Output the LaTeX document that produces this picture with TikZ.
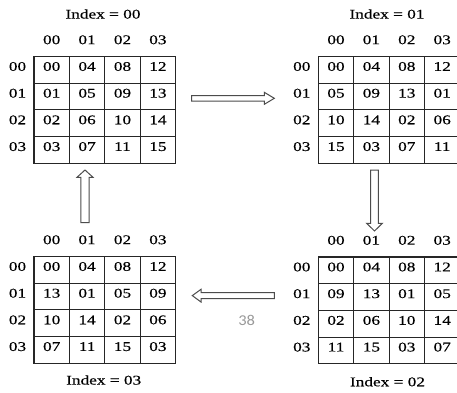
\documentclass[tikz,border=0pt]{standalone}
\usepackage{fontspec}
\setmainfont[FakeStretch=1.3,FakeBold=0.35]{Liberation Serif}
\newfontfamily\pagefont[FakeStretch=1.1]{Carlito}
\newcommand\mygrid[7]{%
  \foreach \rw [count=\r from 0] in {{#4},{#5},{#6},{#7}} {
    \node[rowlab] (#1-l\r) at (#2-16.5, #3+13.35+26.7*\r) {0\r};
    \foreach \v [count=\c from 0] in \rw {
      \node[cell] (#1-\r-\c) at (#2+17.7+35.4*\c, #3+13.35+26.7*\r) {\v};
    }
  }
  \foreach \c in {0,...,3} {
    \node[hdr] (#1-h\c) at (#2+17.7+35.4*\c, #3-16.7) {0\c};
  }
}
\begin{document}
\begin{tikzpicture}[x=1pt,y=-1pt,
  every node/.style={inner sep=0pt, font=\fontsize{13.3}{16}\selectfont},
  cell/.style={draw=black!85, line width=1.1pt, minimum width=35.4pt, minimum height=26.7pt, text height=9pt, text depth=7pt},
  rowlab/.style={text height=9pt, text depth=7pt},
  hdr/.style={},
  title/.style={},
  arr/.style={draw=black!70, line width=1pt, fill=white, line join=miter}]
\useasboundingbox[fill=white] (0,0) rectangle (457,392);

\mygrid{ga}{34}{56.5}{00,04,08,12}{01,05,09,13}{02,06,10,14}{03,07,11,15}
\mygrid{gb}{318.3}{56.5}{00,04,08,12}{05,09,13,01}{10,14,02,06}{15,03,07,11}
\mygrid{gc}{318.3}{257}{00,04,08,12}{09,13,01,05}{02,06,10,14}{11,15,03,07}
\mygrid{gd}{34}{256.5}{00,04,08,12}{13,01,05,09}{10,14,02,06}{07,11,15,03}

\node[title] (ta) at (103,14) {Index = 00};
\node[title] (tb) at (387,14) {Index = 01};
\node[title] (tc) at (387.5,381.7) {Index = 02};
\node[title] (td) at (103.7,380) {Index = 03};

% arrows
\draw[arr] (191.7,95.6) -- (264.3,95.6) -- (264.3,92.3) -- (274.3,98.3) -- (264.3,104.3) -- (264.3,101) -- (191.7,101) -- cycle;
\draw[arr] (370.7,170) -- (378.3,170) -- (378.3,223.3) -- (382.3,223.3) -- (374.5,231) -- (366.7,223.3) -- (370.7,223.3) -- cycle;
\draw[arr] (274.3,292.7) -- (201,292.7) -- (201,289.3) -- (192.3,295.6) -- (201,302) -- (201,298.7) -- (274.3,298.7) -- cycle;
\draw[arr] (80.8,222.7) -- (89.2,222.7) -- (89.2,177.3) -- (93,177.3) -- (85,170) -- (77,177.3) -- (80.8,177.3) -- cycle;

\node[font=\pagefont\fontsize{15}{18}\selectfont, text=black!40] (pg) at (246.7,320.7) {38};
\end{tikzpicture}
\end{document}
